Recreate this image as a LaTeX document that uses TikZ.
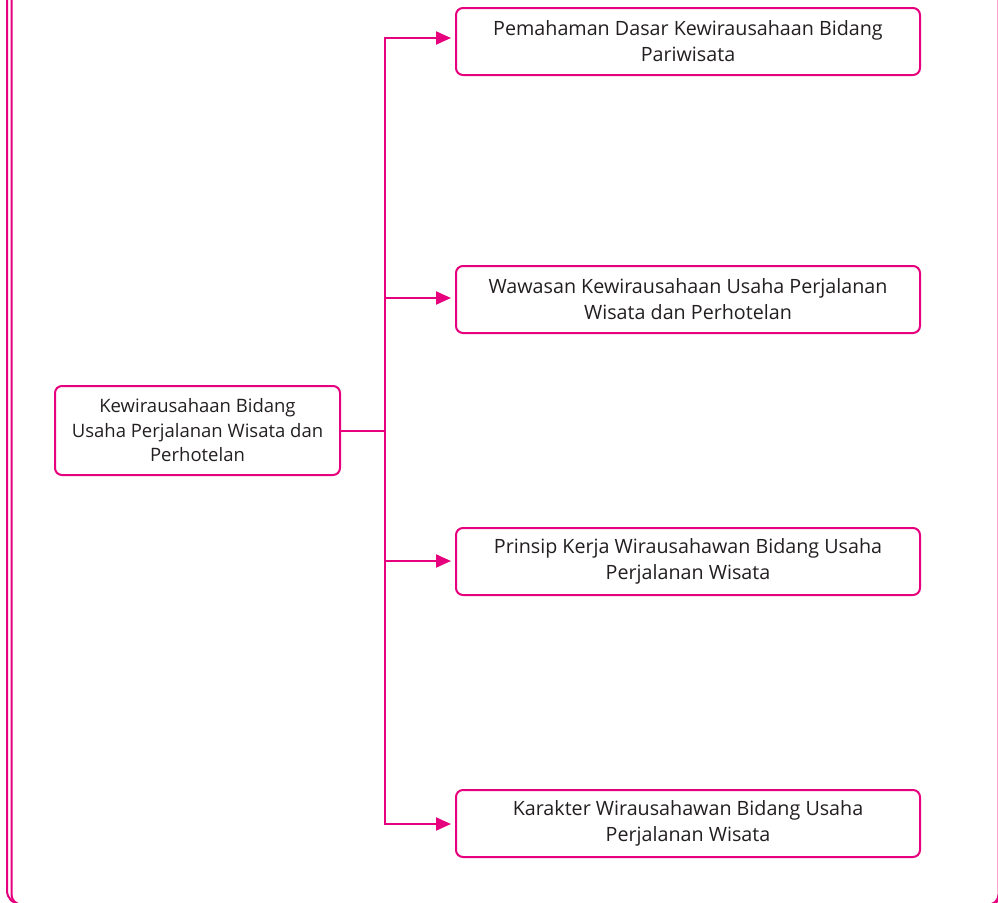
\documentclass[tikz,border=0pt]{standalone}
\usepackage{fontspec}
\setmainfont{Open Sans}
\usetikzlibrary{arrows.meta}
\definecolor{mag}{HTML}{E6007E}
\definecolor{txt}{HTML}{231F20}
\begin{document}
\begin{tikzpicture}[x=1pt,y=-1pt,
  box/.style={draw=mag,line width=2pt,rounded corners=7pt,align=center,text=txt,
    font=\fontsize{19.7}{26}\selectfont,inner sep=0pt},
  conn/.style={draw=mag,line width=2pt},
  arr/.style={conn,-{Triangle[length=15pt,width=13pt]},shorten >=4pt}]
\useasboundingbox (0,0) rectangle (998,902);
\begin{scope}
\clip (0,0) rectangle (998,902);
\draw[mag,line width=2pt,rounded corners=14pt] (7,-20) rectangle (1003,904.5);
\draw[mag,line width=2pt,rounded corners=10pt] (11.5,-20) rectangle (998.5,904.5);
\end{scope}
\node[box,font=\fontsize{18.5}{24.5}\selectfont,minimum width=285pt,minimum height=89pt] (main) at (197.5,430.5)
  {Kewirausahaan Bidang\\Usaha Perjalanan Wisata dan\\Perhotelan};
\node[box,minimum width=464pt,minimum height=67pt] (b1) at (688,41.5)
  {Pemahaman Dasar Kewirausahaan Bidang\\Pariwisata};
\node[box,minimum width=464pt,minimum height=67pt] (b2) at (688,299.5)
  {Wawasan Kewirausahaan Usaha Perjalanan\\Wisata dan Perhotelan};
\node[box,minimum width=464pt,minimum height=67pt] (b3) at (688,561.5)
  {Prinsip Kerja Wirausahawan Bidang Usaha\\Perjalanan Wisata};
\node[box,minimum width=464pt,minimum height=67pt] (b4) at (688,823.5)
  {Karakter Wirausahawan Bidang Usaha\\Perjalanan Wisata};
\coordinate (j) at (385,431);
\coordinate (t1) at (385,38);
\coordinate (t4) at (385,824);
\draw[conn] (main.east |- j) -- (j);
\draw[conn,line cap=rect] (t1) -- (t4);
\draw[arr] (t1) -- (t1 -| b1.west);
\draw[arr] (385,298) -- (b2.west |- 0,298);
\draw[arr] (385,561) -- (b3.west |- 0,561);
\draw[arr] (t4) -- (t4 -| b4.west);
\end{tikzpicture}
\end{document}
